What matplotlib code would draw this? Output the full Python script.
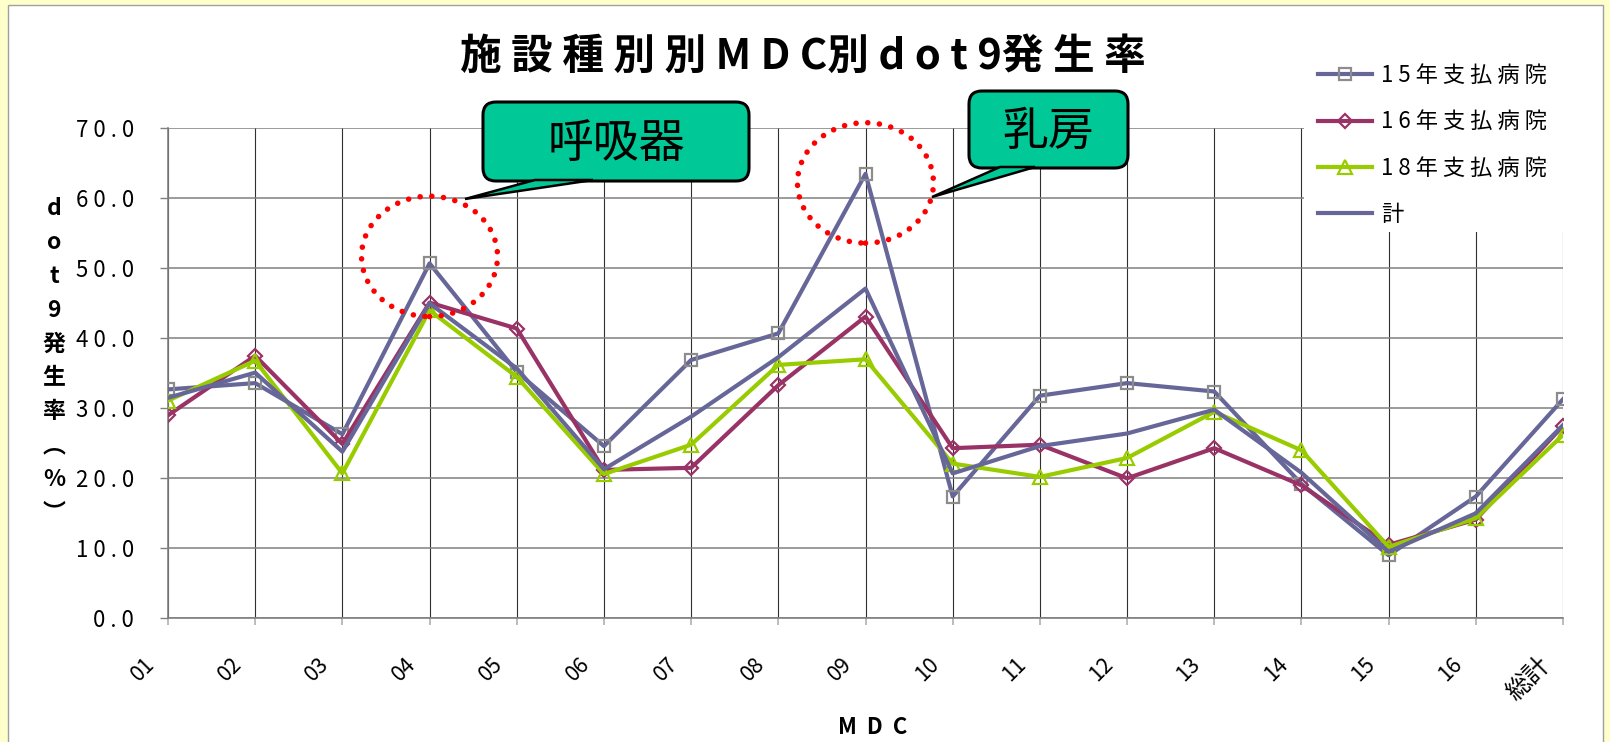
import matplotlib
matplotlib.use("Agg")
import matplotlib.pyplot as plt
import matplotlib.transforms as mtransforms
from matplotlib.patches import Ellipse, FancyBboxPatch, Polygon, Rectangle
from matplotlib.lines import Line2D

plt.rcParams["font.family"] = ["Noto Sans CJK JP", "DejaVu Sans"]

# data
categories = ["01", "02", "03", "04", "05", "06", "07", "08", "09",
              "10", "11", "12", "13", "14", "15", "16", "総計"]
rate_15 = [32.7, 33.6, 26.3, 50.7, 35.2, 24.6, 36.9, 40.7, 63.5,
           17.4, 31.8, 33.6, 32.4, 19.2, 9.0, 17.4, 31.3]
rate_16 = [29.0, 37.5, 24.9, 45.1, 41.4, 21.2, 21.5, 33.3, 43.1,
           24.3, 24.8, 20.0, 24.3, 19.0, 10.5, 14.1, 27.5]
rate_18 = [31.1, 36.8, 20.7, 44.0, 34.5, 20.6, 24.8, 36.2, 37.0,
           22.1, 20.2, 22.9, 29.5, 24.0, 10.2, 14.3, 26.2]
rate_total = [31.5, 35.1, 23.8, 45.0, 35.7, 21.3, 28.8, 37.3, 47.1,
              20.7, 24.6, 26.4, 29.8, 20.8, 9.5, 15.0, 27.6]
series_labels = ["1 5 年 支 払 病 院", "1 6 年 支 払 病 院", "1 8 年 支 払 病 院", "計"]

W, H = 1610, 742
fig = plt.figure(figsize=(W / 100, H / 100), dpi=100)
fig.patch.set_facecolor("#FFFFCC")

# white chart panel
panel = Rectangle((8 / W, -0.01), (1603 - 8) / W, 1.01 - 5 / H, transform=fig.transFigure,
                  facecolor="white", edgecolor="#A0A0A0", lw=1, zorder=-1)
fig.add_artist(panel)

ax = fig.add_axes([168 / W, 1 - 618.3 / H, (1563 - 168) / W, (618.3 - 128.3) / H])
ax.set_facecolor("white")

x = list(range(len(categories)))
ax.plot(x, rate_15, color="#666699", lw=3, marker="s", ms=8.5, mfc="none",
        mec="#8C8C8C", mew=1.6, zorder=3)
ax.plot(x, rate_16, color="#993366", lw=3, marker="D", ms=7.5, mfc="none",
        mec="#993366", mew=1.6, zorder=3)
ax.plot(x, rate_18, color="#99CC00", lw=3, marker="^", ms=9.5, mfc="none",
        mec="#99CC00", mew=1.6, zorder=3)
ax.plot(x, rate_total, color="#666699", lw=3, zorder=3)

ax.set_xlim(0, len(categories) - 1)
ax.set_ylim(0, 70)
ax.set_yticks(range(0, 71, 10))
ax.set_yticklabels([" ".join(f"{v:.1f}") for v in range(0, 71, 10)], fontsize=16)
ax.set_xticks(x)
ax.set_xticklabels(categories, fontsize=15.5, rotation=45, ha="right", va="center",
                   rotation_mode="anchor")
ax.tick_params(axis="y", length=5.8, width=1, color="#808080", pad=18.5)
ax.tick_params(axis="x", length=5, width=1.2, color="#B0B0B0", pad=26)
shift = mtransforms.ScaledTranslation(-0.17, 0, fig.dpi_scale_trans)
for lab in ax.get_xticklabels():
    lab.set_transform(lab.get_transform() + shift)
ax.get_xticklabels()[-1].set_fontsize(18)

ax.grid(axis="y", color="#808080", lw=1.1)
ax.grid(axis="x", color="#303030", lw=0.8)
ax.set_axisbelow(True)
for side in ["top", "right"]:
    ax.spines[side].set_visible(False)
for side in ["left", "bottom"]:
    ax.spines[side].set_color("#808080")
    ax.spines[side].set_linewidth(1.2)

# red dotted circles
for cx, cy in [(3, 51.7), (8, 62.2)]:
    e = Ellipse((cx, cy), width=1.56, height=17.2, fill=False, edgecolor="red",
                lw=4, linestyle=(0, (0.01, 2.1)), clip_on=False, zorder=4)
    e.set_capstyle("round")
    ax.add_patch(e)

# callouts (figure pixel layout)
def inch(px, py):
    return (px / 100, (H - py) / 100)

callouts = [
    ("呼吸器", (483, 102, 749, 181), [(535, 180), (593, 180), (465, 199)]),
    ("乳房", (969, 91, 1128, 168), [(1000, 167), (1035, 167), (932, 197)]),
]
for text, (x0, y0, x1, y1), tail in callouts:
    box = FancyBboxPatch(inch(x0, y1), (x1 - x0) / 100, (y1 - y0) / 100,
                         boxstyle="round,pad=0,rounding_size=0.13",
                         transform=fig.dpi_scale_trans, facecolor="#00C896",
                         edgecolor="black", lw=2.2, zorder=10)
    fig.add_artist(box)
    tri = Polygon([inch(*p) for p in tail], closed=True, transform=fig.dpi_scale_trans,
                  facecolor="#00C896", edgecolor="black", lw=1.8, zorder=11)
    fig.add_artist(tri)
    cxp, cyp = inch((x0 + x1) / 2, (y0 + y1) / 2 + 2)
    fig.text(cxp, cyp, text, transform=fig.dpi_scale_trans, fontsize=33,
             ha="center", va="center", zorder=12)

# legend on white block
fig.add_artist(Rectangle(inch(1304, 232), (1602 - 1304) / 100, (232 - 30) / 100,
                         transform=fig.dpi_scale_trans, facecolor="white",
                         edgecolor="none", zorder=5))
handles = [
    Line2D([], [], color="#666699", lw=3, marker="s", ms=8.5, mfc="none", mec="#8C8C8C", mew=1.6),
    Line2D([], [], color="#993366", lw=3, marker="D", ms=7.5, mfc="none", mec="#993366", mew=1.6),
    Line2D([], [], color="#99CC00", lw=3, marker="^", ms=9.5, mfc="none", mec="#99CC00", mew=1.6),
    Line2D([], [], color="#666699", lw=3),
]
leg = fig.legend(handles, series_labels, loc="center left",
                 bbox_to_anchor=(1318 / W, 1 - 145 / H), bbox_transform=fig.transFigure,
                 frameon=False, fontsize=16, handlelength=2.45, handletextpad=0.4,
                 labelspacing=1.05, borderpad=0, borderaxespad=0)
leg.set_zorder(6)

fig.text(803 / W, 1 - 57 / H, "施 設 種 別 別 M D C別 d o t 9発 生 率",
         fontsize=30, fontweight="bold", ha="center", va="center")
fig.text(54 / W, 1 - 361 / H, "\n".join(["d", "o", "t", "9", "発", "生", "率", "︵", "%", "︶"]),
         fontsize=16.5, fontweight="bold", ha="center", va="center", linespacing=1.6)
fig.text(873 / W, 1 - 727 / H, "M  D  C", fontsize=16, fontweight="bold",
         ha="center", va="center")

plt.savefig("out.png", dpi=100, facecolor=fig.get_facecolor())
